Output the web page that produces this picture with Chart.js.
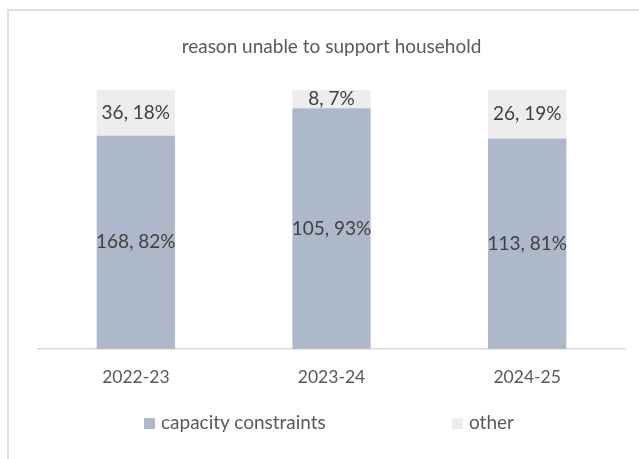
<!DOCTYPE html>
<html>
<head>
<meta charset="utf-8">
<script src="https://cdn.jsdelivr.net/npm/chart.js@4.4.1/dist/chart.umd.min.js"></script>
<style>
  html, body { margin: 0; padding: 0; background: #fff; overflow: hidden; }
  #wrap { position: relative; width: 639px; height: 459px; }
  #frame { position: absolute; left: 7px; top: 9px; width: 660px; height: 480px; border: 2px solid #e0e0e0; box-sizing: border-box; }
  canvas { position: absolute; left: 0; top: 0; }
  #legend { position: absolute; left: 0; top: 410px; width: 639px; height: 24px; font-family: Lato, sans-serif; font-weight: 400; font-size: 19px; color: #595959; }
  .item { position: absolute; top: 0; line-height: 24px; white-space: nowrap; }
  .item span { display: inline-block; width: 11px; height: 11px; margin-right: 6px; vertical-align: 0px; }
</style>
</head>
<body>
<div id="wrap">
  <div id="frame"></div>
  <canvas id="chart" width="639" height="459"></canvas>
  <div id="legend"></div>
</div>
<script>
// households the service could not support, by reason and year
const years = ["2022-23", "2023-24", "2024-25"];
const capacityCounts = [168, 105, 113];
const otherCounts = [36, 8, 26];
const seriesNames = ["capacity constraints", "other"];
const seriesColors = ["#adb9ca", "#ededed"];

const FONT = "Lato, sans-serif";

// share of each year's total, in percent
function shares(counts) {
    return counts.map((c, i) => c / (capacityCounts[i] + otherCounts[i]) * 100);
}
const allCounts = [capacityCounts, otherCounts];

// write "count, pct%" in the middle of each stacked segment
const segmentLabels = {
    id: "segmentLabels",
    afterDatasetsDraw(chart) {
        const ctx = chart.ctx;
        ctx.save();
        ctx.font = "400 19px " + FONT;
        ctx.fillStyle = "#404040";
        ctx.textAlign = "center";
        ctx.textBaseline = "middle";
        chart.data.datasets.forEach((ds, di) => {
            chart.getDatasetMeta(di).data.forEach((bar, i) => {
                const pct = Math.round(ds.data[i]);
                const text = allCounts[di][i] + ", " + pct + "%";
                const mid = (bar.y + bar.base) / 2;
                ctx.fillText(text, bar.x, mid);
            });
        });
        ctx.restore();
    }
};

const ctx = document.getElementById("chart").getContext("2d");
new Chart(ctx, {
    type: "bar",
    data: {
        labels: years,
        datasets: [{
            label: seriesNames[0],
            data: shares(capacityCounts),
            backgroundColor: seriesColors[0]
        }, {
            label: seriesNames[1],
            data: shares(otherCounts),
            backgroundColor: seriesColors[1]
        }]
    },
    options: {
        responsive: false,
        animation: false,
        categoryPercentage: 1,
        barPercentage: 0.4,
        layout: { padding: { left: 38, right: 14, top: 0, bottom: 53 } },
        plugins: {
            legend: { display: false },
            tooltip: { enabled: false },
            title: {
                display: true,
                text: "reason unable to support household",
                color: "#595959",
                font: { family: FONT, size: 19, weight: 400, lineHeight: 1.2 },
                padding: { top: 35.6, bottom: 31.6 }
            }
        },
        scales: {
            x: {
                stacked: true,
                grid: { display: false, drawTicks: false },
                border: { display: true, color: "#d9d9d9", width: 1.5 },
                ticks: {
                    color: "#595959",
                    padding: 18,
                    font: { family: FONT, size: 17.5, weight: 400, lineHeight: 1.2 }
                }
            },
            y: {
                stacked: true,
                display: false,
                min: 0,
                max: 100
            }
        }
    },
    plugins: [segmentLabels]
});

// legend below the axis
const legendLeft = [144, 452];
const legend = document.getElementById("legend");
seriesNames.forEach((name, i) => {
    const item = document.createElement("div");
    item.className = "item";
    item.style.left = legendLeft[i] + "px";
    item.innerHTML = '<span style="background:' + seriesColors[i] + '"></span>' + name;
    legend.appendChild(item);
});
</script>
</body>
</html>
